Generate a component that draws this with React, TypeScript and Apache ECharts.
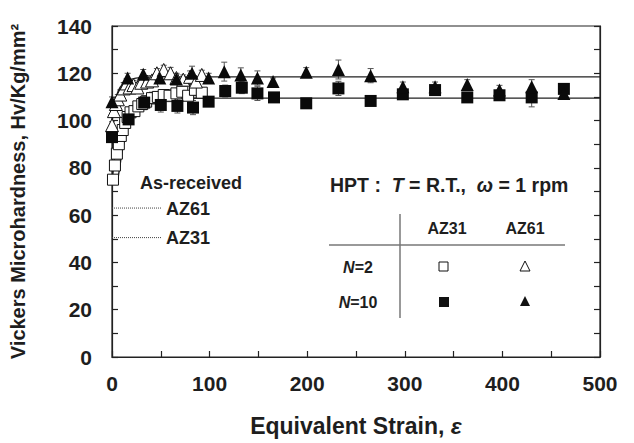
import React, { useEffect, useRef } from "react";
import * as echarts from "echarts";

// ---- data ----
const xTicks = [0, 100, 200, 300, 400, 500];
const yTicks = [0, 20, 40, 60, 80, 100, 120, 140];

// AZ31, N = 2 (open squares)
const az31N2Strain = [1, 3, 5, 7, 9, 11, 13.5, 16, 19, 23, 27, 31, 35, 41, 47, 53, 59, 66, 72, 78, 85, 92];
const az31N2Hv = [75, 81, 86, 90, 93.5, 96, 99, 101.5, 103.5, 104, 106, 107, 108, 109.5, 110, 110.8, 110.5, 111.5, 112.2, 110.5, 113, 111.8];
const az31N2Err = [1, 1, 1, 1, 1.5, 1.5, 2, 2, 2, 2, 2, 2, 2, 2.5, 2, 2, 2.5, 2, 2.5, 2, 2.5, 2];

// AZ61, N = 2 (open triangles)
const az61N2Strain = [0, 2, 4, 6, 8.5, 12, 15, 18, 22, 26, 30, 36, 41, 46, 53, 60, 66, 73, 80, 86, 92];
const az61N2Hv = [98, 104, 107, 109, 111, 113.6, 115.7, 114, 115, 114, 116, 116.5, 117, 120, 121.4, 120, 118, 117.3, 118.5, 116.5, 119.3];
const az61N2Err = [1.5, 2, 2, 2, 2, 2.5, 2, 2, 2, 2, 2, 2.5, 2, 2, 2, 2.5, 2, 2, 2.5, 2, 2];

// AZ31, N = 10 (filled squares)
const az31N10Strain = [0, 17, 33, 50, 67, 83, 99, 116, 133, 149, 166, 199, 232, 265, 298, 331, 364, 397, 430, 463];
const az31N10Hv = [93, 100.5, 107.6, 106.6, 106.2, 105.5, 108, 112.5, 113.9, 111.5, 109.8, 107.3, 113.6, 108.3, 111.1, 112.9, 109.8, 110.7, 109.8, 113.4];
const az31N10Err = [2, 2, 3, 3, 3, 3, 2, 2.5, 2.5, 3, 2, 2, 3, 2, 2, 2, 2, 2, 4, 2];

// AZ61, N = 10 (filled triangles)
const az61N10Strain = [0, 16, 32, 49, 66, 82, 99, 115, 132, 149, 165, 199, 232, 265, 298, 331, 364, 397, 430, 463];
const az61N10Hv = [108, 118, 119.6, 118, 117.6, 120, 118, 120.7, 119.3, 118, 116.5, 120.4, 121.6, 119, 114.3, 114.3, 115.3, 112.9, 114.3, 111.5];
const az61N10Err = [2, 2, 2, 2, 2, 3, 2, 4, 3, 3, 1.5, 2, 4, 3, 2, 2, 2, 2, 3, 1.5];

// fitted curves
const fitAZ61Strain = [0, 1, 2, 4, 6, 8, 10, 14, 20, 30, 45, 100, 200, 300, 400, 500];
const fitAZ61Hv = [99, 102.5, 105.5, 109.5, 112, 113.8, 115, 116.5, 117.5, 118.2, 118.5, 118.5, 118.5, 118.5, 118.5, 118.5];
const fitAZ31aStrain = [0, 1, 2, 3, 4, 6, 8, 10, 13, 17, 22, 30, 45, 70, 100, 200, 300, 400, 500];
const fitAZ31aHv = [74, 78, 82, 85.5, 88.5, 93, 96.5, 99, 101.8, 104.2, 106.2, 108, 109.2, 109.5, 109.5, 109.5, 109.5, 109.5, 109.5];
const fitAZ31bStrain = [5, 7.5, 10, 13, 17.7, 24, 31, 40, 55, 75, 100];
const fitAZ31bHv = [73, 79, 86, 92, 98.8, 103, 105.8, 107.6, 108.9, 109.4, 109.5];

// as-received levels
const asReceivedAZ61 = 63;
const asReceivedAZ31 = 50.5;
const asReceivedLineEnd = 51;

const FONT = "'Liberation Sans', Arial, Helvetica, sans-serif";
const INK = "#1e1e1e";

function pts(xs: number[], ys: number[]) {
  return xs.map((x, i) => [x, ys[i]]);
}
function errs(xs: number[], ys: number[], es: number[]) {
  return xs.map((x, i) => [x, ys[i] - es[i], ys[i] + es[i]]);
}

function errorSeries(data: number[][]) {
  return {
    type: "custom",
    data,
    z: 1,
    renderItem: (params: any, api: any) => {
      const x = api.value(0);
      const lo = api.coord([x, api.value(1)]);
      const hi = api.coord([x, api.value(2)]);
      const w = 3;
      const style = { stroke: "#555", lineWidth: 1 };
      return {
        type: "group",
        children: [
          { type: "line", shape: { x1: lo[0], y1: lo[1], x2: hi[0], y2: hi[1] }, style },
          { type: "line", shape: { x1: lo[0] - w, y1: lo[1], x2: lo[0] + w, y2: lo[1] }, style },
          { type: "line", shape: { x1: hi[0] - w, y1: hi[1], x2: hi[0] + w, y2: hi[1] }, style },
        ],
      };
    },
  };
}

export default function App() {
  const ref = useRef<HTMLDivElement>(null);
  useEffect(() => {
    if (!ref.current) return;
    const chart = echarts.init(ref.current, undefined, { renderer: "svg" });
    const axisLabel = { color: INK, fontFamily: FONT, fontWeight: "bold", fontSize: 21 };
    const lineStyle = { color: "#222", width: 1.2 };
    const fitLine = (data: number[][]) => ({
      type: "line",
      data,
      showSymbol: false,
      symbol: "none",
      smooth: true,
      z: 2,
      lineStyle: { color: "#222", width: 1.4 },
    });
    const open = (sym: string, size: number, data: number[][]) => ({
      type: "scatter",
      symbol: sym,
      symbolSize: size,
      data,
      z: 4,
      itemStyle: { color: "#fff", borderColor: "#111", borderWidth: 1, opacity: 1 },
    });
    const filled = (sym: string, size: number, data: number[][]) => ({
      type: "scatter",
      symbol: sym,
      symbolSize: size,
      data,
      z: 5,
      itemStyle: { color: "#0a0a0a", opacity: 1 },
    });
    const text = (x: number, y: number, t: string, size: number, align = "left", rich?: any) => ({
      type: "text",
      x,
      y,
      style: {
        text: t,
        fill: INK,
        font: `bold ${size}px ${FONT}`,
        align,
        verticalAlign: "middle",
        rich,
      },
    });
    const italicRich = (size: number) => ({
      a: { fontFamily: FONT, fontWeight: "bold", fontSize: size, color: INK },
      i: { fontFamily: FONT, fontWeight: "bold", fontStyle: "italic", fontSize: size, color: INK },
    });

    chart.setOption({
      animation: false,
      backgroundColor: "#fff",
      grid: { left: 110, right: 34, top: 26, bottom: 86, show: true, borderColor: "#222", borderWidth: 1.2 },
      xAxis: [
        {
          type: "value",
          min: xTicks[0],
          max: xTicks[xTicks.length - 1],
          interval: 100,
          axisLine: { show: true, lineStyle },
          axisTick: { show: true, inside: true, length: 6, lineStyle },
          minorTick: { show: true, splitNumber: 2, length: 6, lineStyle },
          splitLine: { show: false },
          axisLabel: { ...axisLabel, margin: 16 },
          name: "{a|Equivalent Strain, }{i|ε}",
          nameLocation: "middle",
          nameGap: 57,
          nameTextStyle: { rich: italicRich(23) },
        },
      ],
      yAxis: [
        {
          type: "value",
          min: yTicks[0],
          max: yTicks[yTicks.length - 1],
          interval: 20,
          axisLine: { show: true, lineStyle },
          axisTick: { show: true, inside: true, length: 6, lineStyle },
          minorTick: { show: true, splitNumber: 2, length: 6, lineStyle },
          splitLine: { show: false },
          axisLabel: { ...axisLabel, margin: 20 },
          name: "Vickers Microhardness, Hv/Kg/mm²",
          nameLocation: "middle",
          nameGap: 84,
          nameTextStyle: { color: INK, fontFamily: FONT, fontWeight: "bold", fontSize: 20 },
        },
        {
          type: "value",
          position: "right",
          min: yTicks[0],
          max: yTicks[yTicks.length - 1],
          interval: 20,
          axisLine: { show: true, lineStyle },
          axisTick: { show: true, inside: true, length: 6, lineStyle },
          minorTick: { show: true, splitNumber: 2, length: 6, lineStyle },
          splitLine: { show: false },
          axisLabel: { show: false },
        },
      ],
      series: [
        {
          type: "line",
          data: [[0, asReceivedAZ61], [asReceivedLineEnd, asReceivedAZ61]],
          symbol: "none",
          lineStyle: { color: "#444", width: 1, type: [1, 1] },
        },
        {
          type: "line",
          data: [[0, asReceivedAZ31], [asReceivedLineEnd, asReceivedAZ31]],
          symbol: "none",
          lineStyle: { color: "#444", width: 1, type: [1, 1] },
        },
        errorSeries(errs(az31N2Strain, az31N2Hv, az31N2Err)),
        errorSeries(errs(az61N2Strain, az61N2Hv, az61N2Err)),
        errorSeries(errs(az31N10Strain, az31N10Hv, az31N10Err)),
        errorSeries(errs(az61N10Strain, az61N10Hv, az61N10Err)),
        fitLine(pts(fitAZ61Strain, fitAZ61Hv)),
        fitLine(pts(fitAZ31aStrain, fitAZ31aHv)),
        fitLine(pts(fitAZ31bStrain, fitAZ31bHv)),
        open("rect", 11, pts(az31N2Strain, az31N2Hv)),
        open("triangle", 13, pts(az61N2Strain, az61N2Hv)),
        filled("rect", 12, pts(az31N10Strain, az31N10Hv)),
        filled("triangle", 13, pts(az61N10Strain, az61N10Hv)),
      ],
      graphic: [
        text(140, 183, "As-received", 18),
        text(166, 209, "AZ61", 18),
        text(166, 238, "AZ31", 18),
        text(330, 185, "{a|HPT :  }{i|T}{a| = R.T.,  }{i|ω}{a| = 1 rpm}", 19.5, "left", italicRich(19.5)),
        text(447, 228, "AZ31", 16, "center"),
        text(525, 228, "AZ61", 16, "center"),
        text(358, 267, "{i|N}{a|=2}", 16, "center", italicRich(16)),
        text(358, 302, "{i|N}{a|=10}", 16, "center", italicRich(16)),
        {
          type: "line",
          shape: { x1: 329, y1: 245, x2: 565, y2: 245 },
          style: { stroke: "#777", lineWidth: 1.5 },
        },
        {
          type: "line",
          shape: { x1: 400, y1: 214, x2: 400, y2: 318 },
          style: { stroke: "#777", lineWidth: 1.5 },
        },
        {
          type: "rect",
          shape: { x: 439, y: 262, width: 9, height: 9 },
          style: { fill: "#fff", stroke: "#111", lineWidth: 1 },
        },
        {
          type: "polygon",
          shape: { points: [[525, 261], [520, 271], [530, 271]] },
          style: { fill: "#fff", stroke: "#111", lineWidth: 1 },
        },
        {
          type: "rect",
          shape: { x: 439, y: 297, width: 10, height: 10 },
          style: { fill: "#111" },
        },
        {
          type: "polygon",
          shape: { points: [[525, 296], [520, 306], [530, 306]] },
          style: { fill: "#111" },
        },
      ],
    });
    return () => chart.dispose();
  }, []);
  return (
    <div
      ref={ref}
      style={{ position: "absolute", left: 0, top: 0, width: 634, height: 443, background: "#fff" }}
    />
  );
}
